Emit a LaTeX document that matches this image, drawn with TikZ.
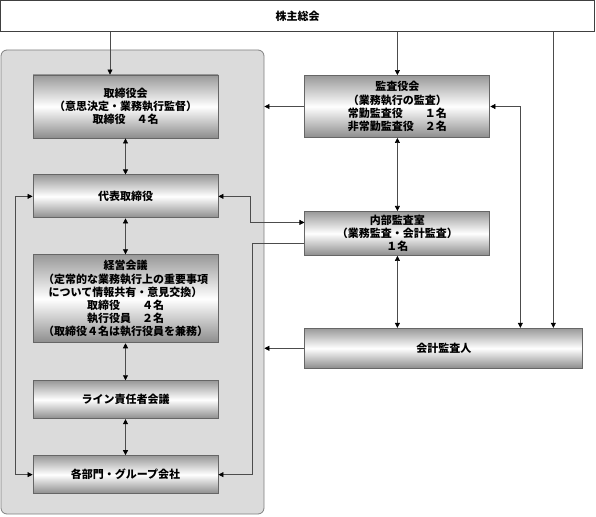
\documentclass[tikz,border=0pt]{standalone}
\usepackage{fontspec}
\newfontfamily\jp{Noto Sans CJK JP}
\usetikzlibrary{arrows.meta,positioning}

\begin{document}
\begin{tikzpicture}[x=1pt,y=-1pt]

  \tikzset{main node/.style={rectangle, draw=black!60, line width=0.9pt,
  		top color=black!40, bottom color=black!45, middle color=white,
  		text centered, align=center, minimum width=185pt, inner sep=2pt,
  		font=\jp\bfseries\fontsize{11}{13.2}\selectfont}, }
  \tikzset{top node/.style={rectangle, draw=black!75, line width=0.8pt,
  		fill=white, minimum width=594pt, minimum height=31pt,
  		font=\jp\bfseries\fontsize{11}{13.2}\selectfont}, }
  \tikzset{group node/.style={rectangle, draw=black!50, fill=black!14,
  		rounded corners=6pt, line width=0.8pt}, }
  \tikzset{linea/.style={-{Triangle[length=5pt,width=5pt,color=black]},
  		draw=black!70, line width=0.6pt}, }
  \tikzset{lineb/.style={{Triangle[length=5pt,width=5pt,color=black]}-{Triangle[length=5pt,width=5pt,color=black]},
  		draw=black!70, line width=0.6pt}, }
\useasboundingbox (0,0) rectangle (596,516);
\node[group node, minimum width=263pt, minimum height=464pt] (group) at (132.5,282) {};
\node[top node] (soukai) at (297.5,16) {株主総会};
\node[main node, minimum height=63pt] (torishimari) at (125.5,106.5)
  {取締役会\\（意思決定・業務執行監督）\\取締役　４名};
\node[main node, minimum height=43pt] (daihyo) [below=36pt of torishimari] {代表取締役};
\node[main node, minimum height=88pt] (keiei) [below=36pt of daihyo]
  {経営会議\\（定常的な業務執行上の重要事項\\について情報共有・意見交換）\\取締役　　４名\\執行役員　２名\\（取締役４名は執行役員を兼務）};
\node[main node, minimum height=38pt] (linemtg) [below=37pt of keiei] {ライン責任者会議};
\node[main node, minimum height=38pt] (bumon) [below=36pt of linemtg] {各部門・グループ会社};
\node[main node, minimum height=62pt] (kansa) [right=86pt of torishimari]
  {監査役会\\（業務執行の監査）\\常勤監査役　　１名\\非常勤監査役　２名};
\node[main node, minimum height=44pt] (naibu) [below=73pt of kansa]
  {内部監査室\\（業務監査・会計監査）\\１名};
\node[main node, minimum width=278pt, minimum height=40pt] (kaikei)
  [below=72pt of naibu.south west, anchor=north west] {会計監査人};
%% connectors
\coordinate (c1) at ([xshift=-15.5pt]torishimari.north);
\coordinate (c2) at ([xshift=-30pt]kaikei.north east);
\coordinate (c3) at ([xshift=-63pt]kaikei.north east);
\draw[linea] (c1 |- soukai.south) -- (c1);
\draw[linea] (kansa.north |- soukai.south) -- (kansa.north);
\draw[linea] (c2 |- soukai.south) -- (c2);
\draw[lineb] (c3) |- (kansa.east);
\draw[linea] (kansa.west) -- (kansa.west -| group.east);
\draw[linea] (kaikei.west) -- (kaikei.west -| group.east);
\draw[lineb] (kansa) -- (naibu);
\draw[lineb] (naibu.south) -- (naibu.south |- kaikei.north);
\foreach \x/\y in {torishimari/daihyo,daihyo/keiei,keiei/linemtg,linemtg/bumon}
  \draw[lineb] (\x) -- (\y);
\draw[lineb] (daihyo.west) -- ++(-17pt,0) |- (bumon.west);
\draw[lineb] (daihyo.east) -- ++(32pt,0) |- ([yshift=11pt]naibu.west);
\draw[linea] ([yshift=-10pt]naibu.west) -- ++(-52pt,0) |- (bumon.east);
%%
\end{tikzpicture}
\end{document}
